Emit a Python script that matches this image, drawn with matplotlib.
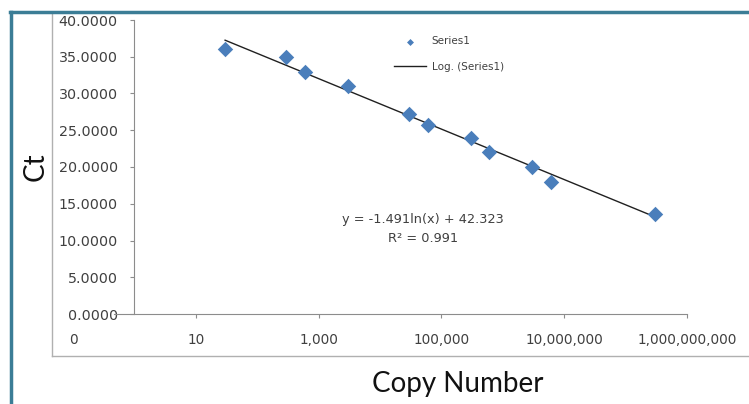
import matplotlib
matplotlib.use("Agg")
import matplotlib.pyplot as plt
from matplotlib.lines import Line2D
from matplotlib.ticker import NullLocator, FixedLocator, FixedFormatter, FormatStrFormatter
import numpy as np

# dati
copy_number = [30, 300, 600, 3000, 30000, 60000, 300000, 600000, 3e6, 6e6, 3e8]
ct = [36.05, 34.97, 32.93, 31.02, 27.21, 25.71, 23.95, 22.04, 20.0, 17.96, 13.6]

# coefficienti della linea di tendenza (come da etichetta)
slope = -1.491
intercept = 42.323
r2 = 0.991

xtick_vals = [0.1, 10, 1e3, 1e5, 1e7, 1e9]
xtick_labels = ["0", "10", "1,000", "100,000", "10,000,000", "1,000,000,000"]
ytick_vals = [0, 5, 10, 15, 20, 25, 30, 35, 40]

W, H = 749, 404
fig = plt.figure(figsize=(W / 100, H / 100), dpi=100)

def fx(px):
    return px / W

def fy(py):
    return 1 - py / H

# area del grafico: asse x da 0.1 (73px) a 1e9 (687px), asse y da 0 (314px) a 40 (20px)
ax = fig.add_axes([fx(73), fy(314), fx(687) - fx(73), fy(20) - fy(314)])
ax.set_xscale("log")
ax.set_xlim(0.1, 1e9)
ax.set_ylim(0, 40)

txt = "#404040"
axcol = "#8c8c8c"

ax.scatter(copy_number, ct, marker="D", s=62, color="#4a7ebb", linewidths=0, zorder=3, label="Series1")

xs = np.logspace(np.log10(min(copy_number)), np.log10(max(copy_number)), 100)
ax.plot(xs, slope * np.log(xs) + intercept, color="#202020", lw=1.0, zorder=2, label="Log. (Series1)")

for s in ["top", "right"]:
    ax.spines[s].set_visible(False)
ax.spines["left"].set_position(("data", 1))
ax.spines["left"].set_color(axcol)
ax.spines["bottom"].set_color(axcol)
ax.spines["bottom"].set_bounds(0.47, 1e9)

ax.xaxis.set_major_locator(FixedLocator(xtick_vals))
ax.xaxis.set_major_formatter(FixedFormatter(xtick_labels))
ax.xaxis.set_minor_locator(NullLocator())
ax.set_yticks(ytick_vals)
ax.yaxis.set_major_formatter(FormatStrFormatter("%.4f"))

ax.tick_params(axis="x", direction="out", length=3, color=axcol, labelsize=9.8, labelcolor=txt, pad=11)
ax.tick_params(axis="y", direction="out", length=3, color=axcol, labelsize=10.3, labelcolor=txt, pad=9)
ax.xaxis.get_major_ticks()[0].tick1line.set_visible(False)

leg = ax.legend(loc="upper left", bbox_to_anchor=(fx(385), fy(27)), bbox_transform=fig.transFigure,
                frameon=False, fontsize=7.5, labelcolor=txt, handlelength=3.0, handletextpad=0.6,
                labelspacing=1.5, markerscale=0.45)

fig.text(fx(423), fy(219), f"y = {slope}ln(x) + {intercept}", ha="center", va="center", fontsize=9.3, color=txt)
fig.text(fx(423), fy(238), f"R² = {r2}", ha="center", va="center", fontsize=9.3, color=txt)

# titoli assi
fig.text(fx(36), fy(167), "Ct", rotation=90, ha="center", va="center", fontsize=20, family="Lato", color="#111111")
fig.text(fx(458), fy(384), "Copy Number", ha="center", va="center", fontsize=20, family="Lato", color="#111111")

# cornice del grafico Excel
fig.add_artist(Line2D([fx(52), fx(52)], [fy(12), fy(356)], transform=fig.transFigure, color="#b0b0b0", lw=1))
fig.add_artist(Line2D([fx(52), fx(749)], [fy(356), fy(356)], transform=fig.transFigure, color="#b0b0b0", lw=1))

# bordo della slide
teal = "#3b7d96"
fig.add_artist(Line2D([fx(10), fx(749)], [fy(12), fy(12)], transform=fig.transFigure, color=teal, lw=2.5))
fig.add_artist(Line2D([fx(10.5), fx(10.5)], [fy(12), fy(404)], transform=fig.transFigure, color=teal, lw=2.5))

fig.savefig("out.png", dpi=100)
